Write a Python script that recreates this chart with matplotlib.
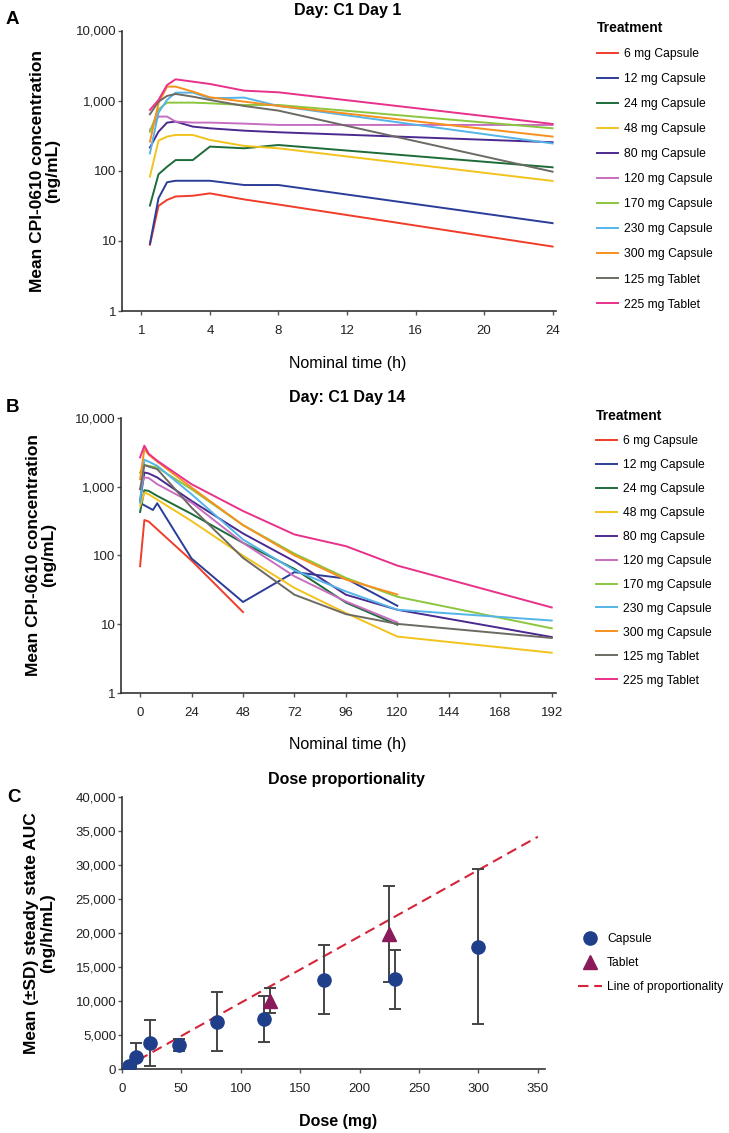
import numpy as np
import matplotlib
matplotlib.use("Agg")
import matplotlib.pyplot as plt
from matplotlib.ticker import FuncFormatter, NullLocator

plt.rcParams['font.family'] = ['Liberation Sans', 'DejaVu Sans']

# ---------------------------------------------------------------- data
treatments = ['6 mg Capsule', '12 mg Capsule', '24 mg Capsule', '48 mg Capsule',
              '80 mg Capsule', '120 mg Capsule', '170 mg Capsule', '230 mg Capsule',
              '300 mg Capsule', '125 mg Tablet', '225 mg Tablet']
colors = ['#f03c2a', '#2b3d98', '#1e6b3a', '#f2c31c', '#4b2a8f', '#c86ec0',
          '#8cc63f', '#55b4e8', '#f7901e', '#6d6a63', '#e8318a']

# C1 Day 1 (ng/mL)
day1_times = [0.5, 1, 1.5, 2, 3, 4, 6, 8, 24]
day1_conc = [
    [8.8, 31.5, 38.4, 43, 44, 47.6, 39, 33, 8.3],           # 6 mg
    [9.1, 40.5, 68.6, 72, 72, 72, 62.6, 62.6, 17.9],        # 12 mg
    [31.9, 89, 114, 142, 142, 221, 209, 233, 112],          # 24 mg
    [82.6, 269, 307, 324, 324, 275, 226, 209, 71.6],        # 48 mg
    [214, 361, 486, 502, 426, 403, 373, 354, 255],          # 80 mg
    [382, 592, 592, 502, 486, 486, 470, 450, 450],          # 120 mg
    [361, 752, 936, 936, 936, 916, 867, 867, 403],          # 170 mg
    [177, 674, 1022, 1300, 1300, 1080, 1104, 839, 245],     # 230 mg
    [260, 916, 1584, 1584, 1345, 1116, 968, 839, 307],      # 300 mg
    [639, 968, 1166, 1245, 1140, 1022, 839, 720, 97],       # 125 mg tablet
    [736, 1022, 1671, 2013, 1866, 1728, 1388, 1314, 465],   # 225 mg tablet
]
day1_xticks = [0, 4, 8, 12, 16, 20, 24]
day1_xticklabels = ['1', '4', '8', '12', '16', '20', '24']

# C1 Day 14 (ng/mL), nan = no sample
nan = np.nan
day14_times = [0, 1, 2, 4, 6, 8, 24, 48, 72, 96, 120, 192]
day14_conc = [
    [69.5, nan, 326, 310, nan, nan, 84, 15, nan, nan, nan, nan],
    [nan, 555, nan, nan, 456, 571, 90, 21, 57, 46, 18.5, nan],
    [427, nan, 884, 864, nan, 731, 400, 152, 63.6, 20.6, 9.8, nan],
    [522, nan, 817, 773, nan, nan, 315, 99, 33.6, 14.5, 6.6, 3.85],
    [618, nan, 1600, 1550, nan, 1354, 618, 208, 82, 26.8, 16.2, 6.5],
    [914, nan, 1354, 1330, nan, 1081, 584, 152, 49.6, 21.4, 10.6, nan],
    [1600, nan, 2050, 2000, nan, 1890, 914, 275, 106, 47, 25, 8.7],
    [584, nan, 2450, 2300, nan, 2000, 773, 170, 60.7, 29.9, 16.2, 11.3],
    [1280, nan, 3510, 2900, nan, 2300, 967, 275, 100, 44.5, 27, nan],
    [914, nan, 2050, 1950, nan, 1790, 494, 92, 26.8, 14.0, 10.1, 6.3],
    [2650, nan, 3925, 3000, nan, 2370, 1081, 441, 201, 136, 71, 17.5],
]
day14_xticks = [0, 24, 48, 72, 96, 120, 144, 168, 192]

# Dose proportionality (ng/h/mL)
cap_dose = [6, 12, 24, 48, 80, 120, 170, 230, 300]
cap_auc = [485, 1760, 3900, 3570, 6990, 7390, 13160, 13220, 18000]
cap_sd = [250, 2150, 3400, 940, 4330, 3380, 5040, 4310, 11380]
tab_dose = [125, 225]
tab_auc = [10070, 19870]
tab_sd = [1800, 7080]
prop_slope = 97.5
prop_dose = [14, 350]

conc_ticks = [1, 10, 100, 1000, 10000]

# ---------------------------------------------------------------- helpers
W, H = 729, 1133
fig = plt.figure(figsize=(W / 100, H / 100), dpi=100)


def px_axes(left, top, right, bottom):
    return fig.add_axes([left / W, 1 - bottom / H, (right - left) / W, (bottom - top) / H])


comma = FuncFormatter(lambda v, p: f"{v:,.0f}")


def style(ax):
    for s in ['top', 'right']:
        ax.spines[s].set_visible(False)
    for s in ['left', 'bottom']:
        ax.spines[s].set_color('#333333')
        ax.spines[s].set_linewidth(1.2)
    ax.tick_params(axis='both', direction='out', length=3, width=1,
                   color='#555555', labelsize=9.5, labelcolor='#222222')
    ax.tick_params(axis='y', pad=1)
    ax.tick_params(axis='x', pad=7)


def treatment_legend(ax, x, y, spacing):
    ax.legend(loc='upper left', bbox_to_anchor=(x / W, 1 - y / H),
              bbox_transform=fig.transFigure, frameon=False, title='Treatment',
              alignment='left', title_fontproperties={'weight': 'bold', 'size': 10},
              fontsize=8.7, labelspacing=spacing, handlelength=1.7,
              handletextpad=0.5, borderpad=0, borderaxespad=0)


def conc_axis(ax, label_x):
    ax.set_yscale('log')
    ax.set_ylim(1, 10000)
    ax.set_yticks(conc_ticks)
    ax.yaxis.set_major_formatter(comma)
    ax.yaxis.set_minor_locator(NullLocator())
    ax.set_ylabel('Mean CPI-0610 concentration\n(ng/mL)', fontsize=12.5,
                  fontweight='bold', linespacing=1.05)
    ax.yaxis.set_label_coords(label_x, 0.5)
    ax.set_xlabel('Nominal time (h)', fontsize=11.5)
    ax.xaxis.set_label_coords(0.52, -0.16)


# ---------------------------------------------------------------- A
axA = px_axes(122, 30.5, 556, 311)
for lab, col, conc in zip(treatments, colors, day1_conc):
    axA.plot(day1_times, conc, color=col, lw=1.4, label=lab)
axA.set_xlim(-1.13, 24.2)
axA.set_xticks(day1_xticks)
axA.set_xticklabels(day1_xticklabels)
conc_axis(axA, -0.142)
axA.set_title('Day: C1 Day 1', fontsize=11.5, fontweight='bold', pad=11, x=0.52)
style(axA)
treatment_legend(axA, 597, 21, 1.08)

# ---------------------------------------------------------------- B
axB = px_axes(121, 417.7, 556, 693)
t14 = np.array(day14_times)
for lab, col, conc in zip(treatments, colors, day14_conc):
    c = np.array(conc, dtype=float)
    ok = ~np.isnan(c)
    axB.plot(t14[ok], c[ok], color=col, lw=1.4, label=lab)
axB.set_xlim(-8.9, 194)
axB.set_xticks(day14_xticks)
conc_axis(axB, -0.148)
axB.set_title('Day: C1 Day 14', fontsize=11.5, fontweight='bold', pad=11, x=0.52)
style(axB)
treatment_legend(axB, 596, 409, 0.99)

# ---------------------------------------------------------------- C
axC = px_axes(121.7, 796.7, 545, 1069.3)
line_dose = np.array(prop_dose)
axC.plot(line_dose, prop_slope * line_dose, color='#d4253a', lw=1.5,
         ls=(0, (5, 2.8)), label='Line of proportionality', zorder=2)
err_kw = dict(fmt='none', ecolor='#444444', elinewidth=1.4, capsize=4.2,
              capthick=1.4, zorder=3)
axC.errorbar(cap_dose, cap_auc, yerr=cap_sd, **err_kw)
axC.errorbar(tab_dose, tab_auc, yerr=tab_sd, **err_kw)
axC.plot(cap_dose, cap_auc, 'o', color='#1f3f8a', ms=9.5, ls='none',
         label='Capsule', zorder=4)
axC.plot(tab_dose, tab_auc, '^', color='#8b1a5a', ms=9.5, ls='none',
         label='Tablet', zorder=4)
axC.set_xlim(0, 356)
axC.set_ylim(0, 40000)
axC.set_xticks(range(0, 351, 50))
axC.set_yticks(range(0, 40001, 5000))
axC.yaxis.set_major_formatter(comma)
axC.set_ylabel('Mean (\u00b1SD) steady state AUC\n(ng/h/mL)', fontsize=12.5,
               fontweight='bold', linespacing=1.05)
axC.yaxis.set_label_coords(-0.158, 0.5)
axC.set_xlabel('Dose (mg)', fontsize=11.5, fontweight='bold')
axC.xaxis.set_label_coords(0.51, -0.165)
axC.set_title('Dose proportionality', fontsize=11.5, fontweight='bold', pad=9, x=0.53)
style(axC)
h, l = axC.get_legend_handles_labels()
order = [l.index('Capsule'), l.index('Tablet'), l.index('Line of proportionality')]
axC.legend([h[i] for i in order], [l[i] for i in order], loc='upper left',
           bbox_to_anchor=(578 / W, 1 - 933 / H), bbox_transform=fig.transFigure,
           frameon=False, fontsize=8.7, handlelength=2.0, handletextpad=0.4,
           labelspacing=1.0, borderpad=0, borderaxespad=0, numpoints=1)

# ---------------------------------------------------------------- panel letters
for letter, (x, y) in zip('ABC', [(12, 19), (12.5, 407), (13.5, 798)]):
    fig.text(x / W, 1 - y / H, letter, fontsize=13.5, fontweight='bold',
             ha='center', va='center')

fig.savefig('out.png', dpi=100)
